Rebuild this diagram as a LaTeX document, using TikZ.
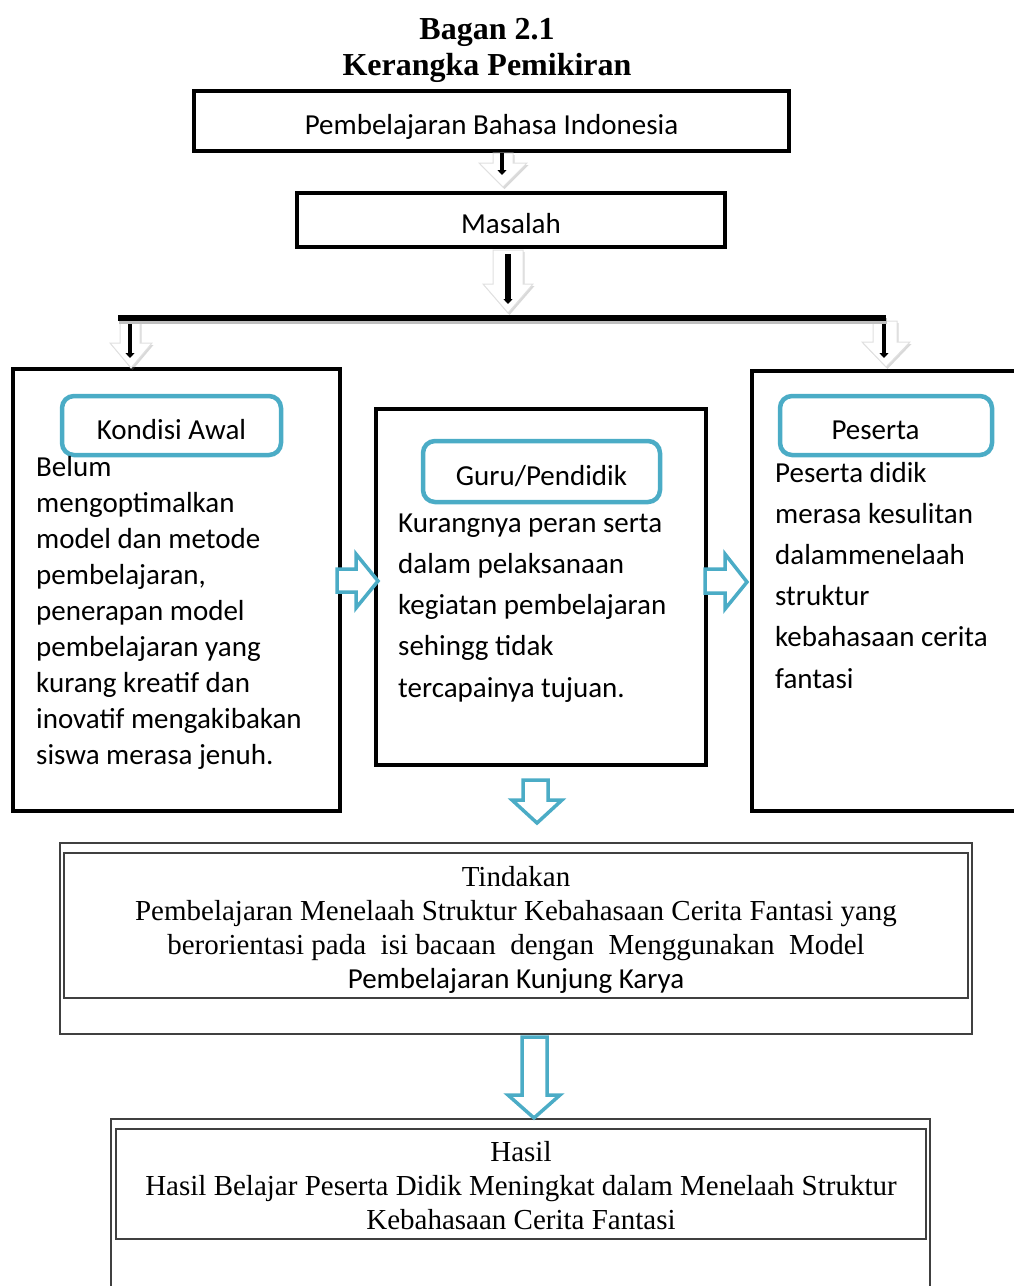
\documentclass[tikz,border=0pt]{standalone}
\usepackage{fontspec}
\setmainfont{Liberation Serif}
\newfontfamily\calibri{Carlito}
\usetikzlibrary{arrows.meta,shadows}
\definecolor{tosca}{HTML}{4BACC6}
\begin{document}
\begin{tikzpicture}[x=1pt,y=-1pt,
  kotak/.style={draw=black,line width=4.5pt,inner sep=0pt,text height=27pt,text depth=0pt,font=\calibri\fontsize{29}{35}\selectfont},
  kepala/.style={draw=tosca,line width=4.5pt,rounded corners=12pt,inner sep=0pt,text height=27pt,text depth=0pt,font=\calibri\fontsize{29}{35}\selectfont},
  isi/.style={anchor=base west,align=left,inner sep=0pt},
  bingkai/.style={draw=black!75,line width=1.3pt,inner sep=0pt},
  panahbiru/.style={draw=tosca,fill=white,line width=3.5pt,line join=miter},
  panahputih/.style={fill=white,draw=black!12,line width=1pt,drop shadow={shadow xshift=1.5pt,shadow yshift=-2pt,opacity=0.3}},
  garis/.style={-{Triangle[length=5pt,width=9pt]},line width=4pt}]
  \useasboundingbox (0,0) rectangle (1014,1286);
  \node[anchor=base,font=\bfseries\fontsize{32}{36}\selectfont] (bagan) at (487,39) {Bagan 2.1};
  \node[anchor=base,font=\bfseries\fontsize{32}{36}\selectfont] (kerangka) at (487,75) {Kerangka Pemikiran};
  \node[kotak,minimum width=595pt,minimum height=60pt] (bahasa) at (491.5,121) {Pembelajaran Bahasa Indonesia};
  \node[kotak,minimum width=428pt,minimum height=54pt] (masalah) at (511,220) {Masalah};
  \node[kotak,minimum width=327pt,minimum height=442pt] (kiri) at (176.5,590) {};
  \node[kotak,minimum width=330pt,minimum height=356pt] (tengah) at (541,587) {};
  \node[kotak,minimum width=278pt,minimum height=440pt] (kanan) at (891,591) {};
  \node[kepala,minimum width=219pt,minimum height=59pt] (kondisi) at (171.5,425.5) {Kondisi Awal};
  \node[kepala,minimum width=237pt,minimum height=61pt] (guru) at (541.5,471.5) {Guru/Pendidik};
  \node[kepala,minimum width=212pt,minimum height=59pt] (peserta) at (886,425.5) {Peserta\hspace*{21pt}};
  \node[isi,font=\calibri\fontsize{29}{35.9}\selectfont] (kiriisi) at (36,764) {Belum\\mengoptimalkan\\model dan metode\\pembelajaran,\\penerapan model\\pembelajaran yang\\kurang kreatif dan\\inovatif mengakibakan\\siswa merasa jenuh.};
  \node[isi,font=\calibri\fontsize{29}{41.2}\selectfont] (tengahisi) at (398,697) {Kurangnya peran serta\\dalam pelaksanaan\\kegiatan pembelajaran\\sehingg tidak\\tercapainya tujuan.};
  \node[isi,font=\calibri\fontsize{29}{41.2}\selectfont] (kananisi) at (775,688) {Peserta didik\\merasa kesulitan\\dalammenelaah\\struktur\\kebahasaan cerita\\fantasi};
  \node[bingkai,minimum width=912pt,minimum height=191pt] (tindakan) at (516,938.5) {};
  \node[bingkai,minimum width=904pt,minimum height=145pt] (tindakandalam) at (516,925.5) {};
  \node[anchor=base,align=center,inner sep=0pt,font=\fontsize{29}{34}\selectfont] (tindakanisi) at (516,988) {Tindakan\\Pembelajaran Menelaah Struktur Kebahasaan Cerita Fantasi yang\\berorientasi pada\ \ isi bacaan\ \ dengan\ \ Menggunakan\ \ Model\\{\calibri Pembelajaran Kunjung Karya}};
  \node[bingkai,minimum width=819pt,minimum height=181pt] (hasil) at (520.5,1209.5) {};
  \node[bingkai,minimum width=810pt,minimum height=110pt] (hasildalam) at (521,1184) {};
  \node[anchor=base,align=center,inner sep=0pt,font=\fontsize{29}{34}\selectfont] (hasilisi) at (521,1229) {Hasil\\Hasil Belajar Peserta Didik Meningkat dalam Menelaah Struktur\\Kebahasaan Cerita Fantasi};
  \draw[panahputih] (493,153) -- (513,153) -- (513,163) -- (527,163) -- (503,187) -- (479,163) -- (493,163) -- cycle;
  \draw[panahputih] (493,250) -- (523,250) -- (523,284) -- (533,284) -- (508,313) -- (483,284) -- (493,284) -- cycle;
  \draw[panahputih] (120,321) -- (140,321) -- (140,343) -- (152,343) -- (131,368) -- (110,343) -- (120,343) -- cycle;
  \draw[panahputih] (873,321) -- (897,321) -- (897,342) -- (910,342) -- (886,367) -- (862,342) -- (873,342) -- cycle;
  \draw[line width=6pt,black!25] (119,321) -- (887,321);
  \draw[line width=6pt] (118,318) -- (886,318);
  \draw[garis] (502,153) -- (502,175);
  \draw[garis,line width=6pt] (508,254) -- (508,304);
  \draw[garis] (130,324) -- (130,358);
  \draw[garis] (884,324) -- (884,358);
  \draw[panahbiru] (337,569) -- (356,569) -- (356,554) -- (378,581) -- (356,608) -- (356,592) -- (337,592) -- cycle;
  \draw[panahbiru] (705,569) -- (725,569) -- (725,554) -- (747,582) -- (725,609) -- (725,593) -- (705,593) -- cycle;
  \draw[panahbiru] (523,780) -- (548,780) -- (548,800) -- (562,800) -- (537,823) -- (512,800) -- (523,800) -- cycle;
  \draw[panahbiru] (522,1037) -- (547,1037) -- (547,1095) -- (560,1095) -- (534,1118) -- (508,1095) -- (522,1095) -- cycle;
\end{tikzpicture}
\end{document}
